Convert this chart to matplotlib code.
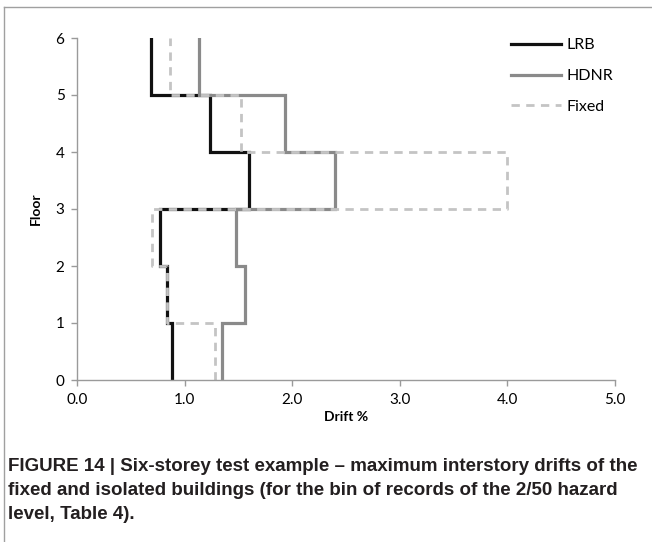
import numpy as np
import matplotlib
matplotlib.use("Agg")
import matplotlib.pyplot as plt
from matplotlib.lines import Line2D

# Drift % per storey (storey 1 = floor 0 to 1, ... storey 6 = floor 5 to 6)
stories = [1, 2, 3, 4, 5, 6]
drift_lrb = [0.88, 0.84, 0.77, 1.60, 1.24, 0.69]
drift_hdnr = [1.35, 1.56, 1.48, 2.40, 1.93, 1.13]
drift_fixed = [1.28, 0.84, 0.70, 4.00, 1.52, 0.86]

x_ticks = [0.0, 1.0, 2.0, 3.0, 4.0, 5.0]
y_ticks = [0, 1, 2, 3, 4, 5, 6]

caption = ("FIGURE 14 | Six-storey test example \u2013 maximum interstory drifts of the\n"
           "fixed and isolated buildings (for the bin of records of the 2/50 hazard\n"
           "level, Table 4).")


def step_xy(values):
    # each storey drawn as a vertical segment between its two floors
    xs = np.repeat(values, 2)
    floors = np.array(stories)
    ys = np.ravel(np.column_stack([floors - 1, floors]))
    return xs, ys


fig = plt.figure(figsize=(6.52, 5.42), dpi=100)
ax = fig.add_axes([77 / 652, 1 - 380 / 542, 538 / 652, 342 / 542])

tick_font = "Lato"

x, y = step_xy(drift_lrb)
ax.plot(x, y, color="#111111", lw=2.3, solid_joinstyle="miter", label="LRB")
x, y = step_xy(drift_hdnr)
ax.plot(x, y, color="#8a8a8a", lw=2.3, solid_joinstyle="miter", label="HDNR")
x, y = step_xy(drift_fixed)
ax.plot(x, y, color="#c4c4c4", lw=2.0, dashes=(3, 2.3), label="Fixed")

ax.set_xlim(0, 5)
ax.set_ylim(0, 6)
ax.set_xticks(x_ticks)
ax.set_xticklabels([f"{t:.1f}" for t in x_ticks], fontsize=11, family=tick_font)
ax.set_yticks(y_ticks)
ax.set_yticklabels([str(t) for t in y_ticks], fontsize=11, family=tick_font)

for side in ["top", "right"]:
    ax.spines[side].set_visible(False)
for side in ["left", "bottom"]:
    ax.spines[side].set_color("#9a9a9a")
    ax.spines[side].set_linewidth(1.0)
ax.tick_params(direction="out", length=4, width=1.0, color="#9a9a9a", pad=5)

ax.set_xlabel("Drift %", fontsize=10, fontweight="bold", family=tick_font, labelpad=3)
ax.set_ylabel("Floor", fontsize=10, fontweight="bold", family=tick_font, labelpad=10)

leg = fig.legend(loc="upper left", bbox_to_anchor=(511 / 652, 1 - 38 / 542),
                 frameon=False, borderpad=0, borderaxespad=0,
                 prop={"family": tick_font, "size": 11.5}, handlelength=3.1,
                 labelspacing=1.05, handletextpad=0.35)

# figure frame (top and left edges only)
fig.add_artist(Line2D([4 / 652, 4 / 652], [0, 1 - 7 / 542], color="#a0a0a0", lw=1.0))
fig.add_artist(Line2D([4 / 652, 1], [1 - 7 / 542, 1 - 7 / 542], color="#a0a0a0", lw=1.0))

fig.text(8 / 652, 1 - 458 / 542, caption, ha="left", va="top", fontsize=13.5,
         fontweight="bold", family="Liberation Sans", color="#231f20", linespacing=1.55)

fig.savefig("out.png", dpi=100)
